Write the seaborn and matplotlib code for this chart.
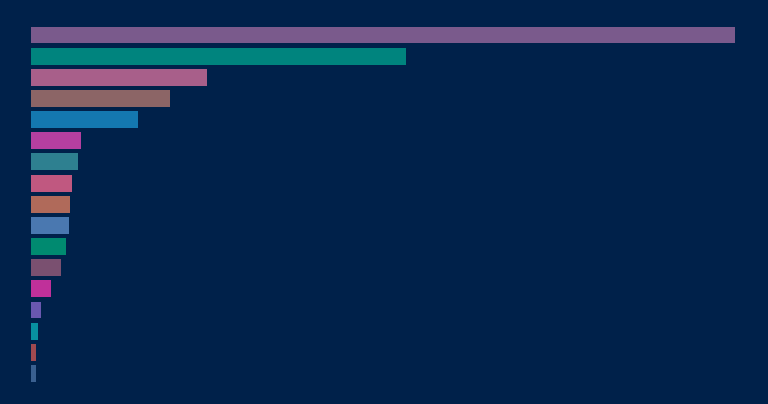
import pandas as pd
import seaborn as sns
import matplotlib.pyplot as plt

# Valori delle barre (unita arbitrarie)
categories = [f"c{i}" for i in range(17)]
values = [704, 375, 176, 138.5, 106.5, 49.5, 46.5, 41, 39, 38, 34.5, 30, 20, 9.5, 7, 4.5, 4.5]
colors = ["#7a5a8c", "#00847e", "#a85f8a", "#8c6566", "#1478b0", "#b53fa0",
          "#2e8090", "#c05880", "#b06a5a", "#4a78b0", "#008a70", "#7a5070",
          "#c0309a", "#6a58b0", "#0890a0", "#a04a50", "#3a6090"]

bg = "#00214a"

df = pd.DataFrame({"cat": categories, "val": values})

fig = plt.figure(figsize=(7.68, 4.04), dpi=100, facecolor=bg)
ax = fig.add_axes([31 / 768, 1 - 384 / 404, 704 / 768, (384 - 24.4) / 404])
ax.set_facecolor(bg)

sns.barplot(data=df, y="cat", x="val", hue="cat", palette=colors, saturation=1,
            legend=False, width=0.8, ax=ax, orient="h")

ax.set_xlim(0, max(values))
ax.set_ylim(16.5, -0.5)
ax.axis("off")

plt.savefig("out.png", dpi=100, facecolor=bg)
plt.close()
